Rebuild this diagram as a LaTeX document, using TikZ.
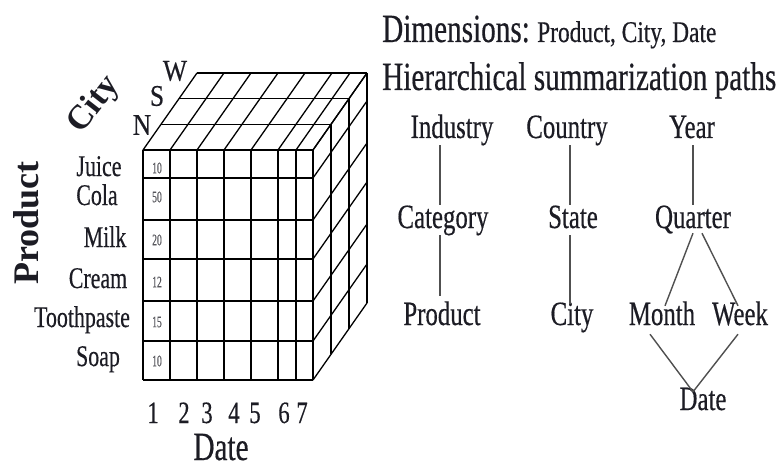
\documentclass[tikz,border=0pt]{standalone}
\usepackage{fontspec}
\setmainfont{Liberation Serif}
\newfontfamily\fA{Liberation Serif}[FakeStretch=0.73,FakeBold=0.4]
\newfontfamily\fB{Liberation Serif}[FakeStretch=0.78,FakeBold=0.4]
\newfontfamily\fC{Liberation Serif}[FakeStretch=0.6,FakeBold=0.3]
\newfontfamily\fD{Liberation Serif}[FakeStretch=0.85,FakeBold=0.4]
\definecolor{ink}{HTML}{1C1C24}
\definecolor{conn}{HTML}{505050}
\tikzset{
  cube/.style={draw=black, line width=1.3pt},
  big/.style={inner sep=0, text=ink, font=\fA\fontsize{40}{44}\selectfont},
  small/.style={inner sep=0, text=ink, font=\fB\fontsize{30}{34}\selectfont},
  hier/.style={inner sep=0, text=ink, text height=23pt, text depth=7pt, font=\fA\fontsize{34}{38}\selectfont},
  prodlbl/.style={inner sep=0, text=ink, anchor=base, font=\fA\fontsize{30}{34}\selectfont},
  cellval/.style={inner sep=0, text=ink!75, font=\fC\fontsize{16}{18}\selectfont},
  digit/.style={inner sep=0, text=ink, anchor=base, font=\fA\fontsize{31}{34}\selectfont},
  axis/.style={inner sep=0, text=ink, font=\bfseries\fontsize{36}{40}\selectfont},
  layer/.style={inner sep=0, text=ink, font=\fD\fontsize{30}{34}\selectfont},
  link/.style={draw=conn, line width=1.4pt}
}
\begin{document}
\begin{tikzpicture}[x=1pt,y=-1pt]
\useasboundingbox (0,0) rectangle (776,468);
\fill[white] (0,0) rectangle (776,468);
% ---------- cube ----------
\def\dx{18}\def\dy{-25.67}
% front grid
\foreach \xx in {143,170,197,224,251,278,296,313}
  \draw[cube] (\xx,150) -- (\xx,380);
\foreach \yy in {150,178,220,259,301,341,380}
  \draw[cube] (143,\yy) -- (313,\yy);
% top face
\foreach \xx in {143,170,197,224,251,278,296,313}
  \draw[cube] (\xx,150) -- ({\xx+3*\dx},{150+3*\dy});
\foreach \i in {1,2,3}
  \draw[cube] ({143+\i*\dx},{150+\i*\dy}) -- ({313+\i*\dx},{150+\i*\dy});
% right face
\foreach \yy in {150,178,220,259,301,341,380}
  \draw[cube] (313,\yy) -- ({313+3*\dx},{\yy+3*\dy});
\foreach \i in {1,2,3}
  \draw[cube] ({313+\i*\dx},{150+\i*\dy}) -- ({313+\i*\dx},{380+\i*\dy});
% cell values
\node[cellval] (v1) at (157,168) {10};
\node[cellval] (v2) at (157,197) {50};
\node[cellval] (v3) at (157,240) {20};
\node[cellval] (v4) at (157,282) {12};
\node[cellval] (v5) at (157,322) {15};
\node[cellval] (v6) at (157,361) {10};
% product labels
\node[prodlbl] (pj) at (99,176) {Juice};
\node[prodlbl] (pc) at (97,205) {Cola};
\node[prodlbl] (pm) at (105,247) {Milk};
\node[prodlbl] (pr) at (98,288) {Cream};
\node[prodlbl] (pt) at (82,327) {Toothpaste};
\node[prodlbl] (ps) at (98,366) {Soap};
% city layers
\node[layer] (ln) at (142,125) {N};
\node[layer] (ls) at (157,96) {S};
\node[layer] (lw) at (175,71) {W};
% date digits
\node[digit] (d1) at (153,423) {1};
\node[digit] (d2) at (184,423) {2};
\node[digit] (d3) at (207,423) {3};
\node[digit] (d4) at (234,423) {4};
\node[digit] (d5) at (255,423) {5};
\node[digit] (d6) at (284,423) {6};
\node[digit] (d7) at (302,423) {7};
% axis titles
\node[axis, rotate=90] (tprod) at (26,223) {Product};
\node[axis, rotate=52, font=\bfseries\fontsize{34}{38}\selectfont] (tcity) at (94,105) {City};
\node[big, anchor=base] (tdate) at (221,460) {Date};
% ---------- right side ----------
\node[big, anchor=base west] (dim) at (382,42) {Dimensions:};
\node[small, anchor=base west] (dimlist) at (537,42) {Product, City, Date};
\node[big, anchor=base west] (hsp) at (382,90) {Hierarchical summarization paths};
% hierarchy nodes
\node[hier] (ind) at (452,130) {Industry};
\node[hier] (cat) at (443,220) {Category};
\node[hier] (prd) at (442,317) {Product};
\node[hier] (cty) at (567,130) {Country};
\node[hier] (sta) at (573,220) {State};
\node[hier] (cit) at (572,317) {City};
\node[hier] (yr)  at (692,130) {Year};
\node[hier] (qtr) at (693,220) {Quarter};
\node[hier] (mon) at (662,317) {Month};
\node[hier] (wk)  at (740,317) {Week};
\node[hier] (dat) at (703,402) {Date};
% hierarchy links
\draw[link] ([xshift=-12pt]ind.south) -- ([xshift=-3pt]cat.north);
\draw[link] ([xshift=-3pt]cat.south) -- ([xshift=-2pt,yshift=6pt]prd.north);
\draw[link] ([xshift=3pt]cty.south) -- ([xshift=-3pt]sta.north);
\draw[link] ([xshift=-3pt]sta.south) -- ([xshift=-2pt,yshift=-2pt]cit.north);
\draw[link] ([xshift=1pt]yr.south) -- (qtr.north);
\draw[link] ([xshift=0pt,yshift=2pt]qtr.south) -- ([xshift=3pt,yshift=-4pt]mon.north);
\draw[link] ([xshift=9pt,yshift=2pt]qtr.south) -- ([xshift=-2pt,yshift=-4pt]wk.north);
\draw[link] ([xshift=-12pt,yshift=-2pt]mon.south) -- ([xshift=-10pt,yshift=-5pt]dat.north);
\draw[link] ([xshift=-2pt,yshift=-2pt]wk.south) -- ([xshift=-10pt,yshift=-5pt]dat.north);
\end{tikzpicture}
\end{document}
